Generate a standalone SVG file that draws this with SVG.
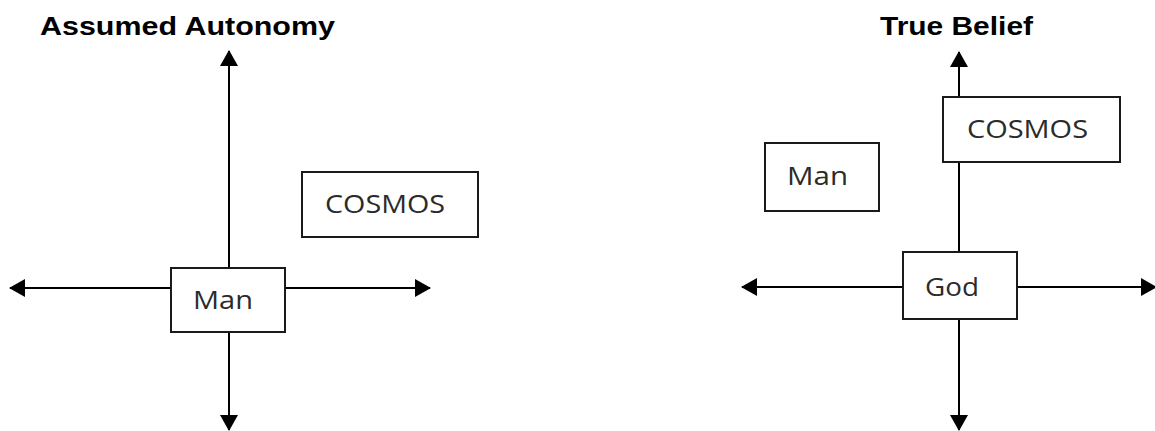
<svg xmlns="http://www.w3.org/2000/svg" width="1155" height="431" viewBox="0 0 1155 431">
<style>
.title{font-family:"Liberation Sans",Arial,sans-serif;font-weight:bold;font-size:26px;fill:#000}
.box{fill:#fff;stroke:#1a1a1a;stroke-width:2}
.lbl{font-family:"Open Sans","Noto Sans",sans-serif;font-size:25px;fill:#2b2b2b}
.ax{stroke:#000;stroke-width:2;fill:none}
</style>
<defs>
<marker id="ah" viewBox="0 0 16 18" refX="15" refY="9" markerWidth="16" markerHeight="18" markerUnits="userSpaceOnUse" orient="auto">
<path d="M0,0 L16,9 L0,18 Z" fill="#000"/>
</marker>
</defs>
<rect width="1155" height="431" fill="#fff"/>
<text class="title" x="40" y="35" textLength="295" lengthAdjust="spacingAndGlyphs">Assumed Autonomy</text>
<text class="title" x="880" y="35" textLength="153" lengthAdjust="spacingAndGlyphs">True Belief</text>
<g id="connectors">
<line class="ax" x1="229" y1="268" x2="229" y2="51" marker-end="url(#ah)"/>
<line class="ax" x1="229" y1="332" x2="229" y2="430" marker-end="url(#ah)"/>
<line class="ax" x1="171" y1="288" x2="10" y2="288" marker-end="url(#ah)"/>
<line class="ax" x1="285" y1="288" x2="430" y2="288" marker-end="url(#ah)"/>
<line class="ax" x1="959" y1="97" x2="959" y2="52" marker-end="url(#ah)"/>
<line class="ax" x1="959" y1="162" x2="959" y2="252"/>
<line class="ax" x1="959" y1="319" x2="959" y2="430" marker-end="url(#ah)"/>
<line class="ax" x1="903" y1="287" x2="742" y2="287" marker-end="url(#ah)"/>
<line class="ax" x1="1017" y1="287" x2="1156" y2="287" marker-end="url(#ah)"/>
</g>
<g id="man-left">
<rect class="box" x="171" y="268" width="114" height="64"/>
<text class="lbl" x="193" y="309" textLength="60" lengthAdjust="spacingAndGlyphs">Man</text>
</g>
<g id="cosmos-left">
<rect class="box" x="302" y="172" width="176" height="65"/>
<text class="lbl" x="325" y="213" textLength="120" lengthAdjust="spacingAndGlyphs">COSMOS</text>
</g>
<g id="cosmos-right">
<rect class="box" x="943" y="97" width="177" height="65"/>
<text class="lbl" x="967" y="138" textLength="121" lengthAdjust="spacingAndGlyphs">COSMOS</text>
</g>
<g id="man-right">
<rect class="box" x="765" y="143" width="114" height="68"/>
<text class="lbl" x="787" y="185" textLength="61" lengthAdjust="spacingAndGlyphs">Man</text>
</g>
<g id="god">
<rect class="box" x="903" y="252" width="114" height="67"/>
<text class="lbl" x="925" y="296" textLength="54" lengthAdjust="spacingAndGlyphs">God</text>
</g>
</svg>
